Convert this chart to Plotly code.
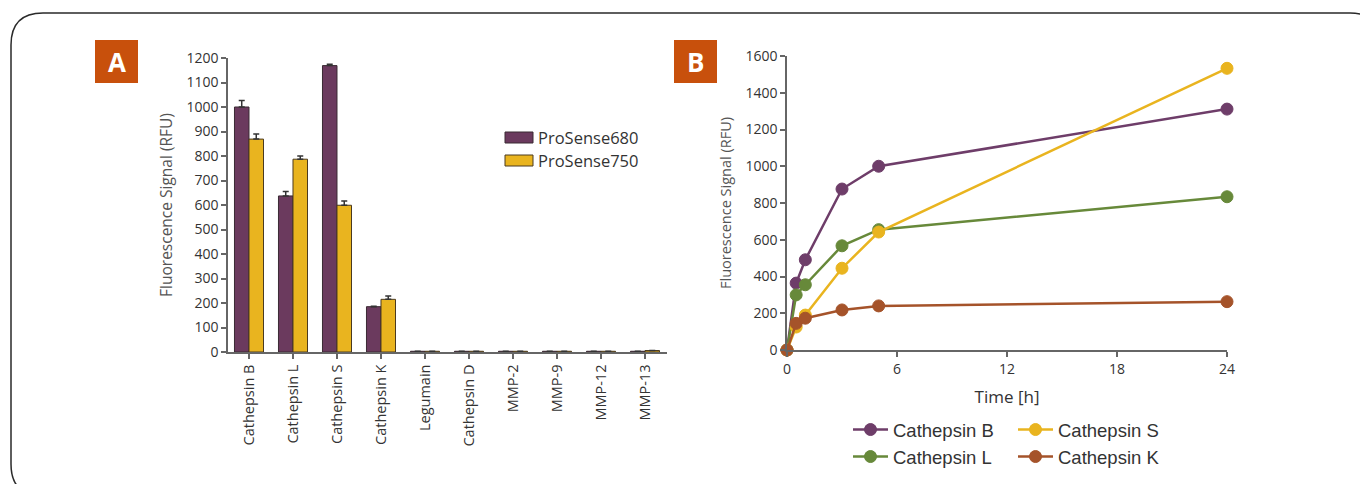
import plotly.graph_objects as go

# ---------------- data ----------------
categories = ["Cathepsin B", "Cathepsin L", "Cathepsin S", "Cathepsin K", "Legumain",
              "Cathepsin D", "MMP-2", "MMP-9", "MMP-12", "MMP-13"]
prosense680 = [1000, 637, 1169, 185, 3, 3, 3, 3, 3, 3]
prosense680_err = [27, 18, 5, 2, 0, 0, 0, 0, 0, 0]
prosense750 = [869, 787, 599, 215, 3, 3, 3, 3, 3, 6]
prosense750_err = [21, 13, 17, 14, 0, 0, 0, 0, 0, 0]

time_h = [0, 0.5, 1, 3, 5, 24]
cathepsin_B = [0, 364, 491, 876, 1000, 1311]
cathepsin_L = [0, 300, 355, 567, 655, 834]
cathepsin_S = [0, 125, 190, 445, 642, 1533]
cathepsin_K = [0, 145, 173, 218, 240, 263]

W, H = 1368, 484
OFF = 8  # page body margin offset
def px(x):
    return (x - OFF) / W
def py(y):
    return 1 - (y - OFF) / H

PURPLE = "#6B3A5E"
YELLOW = "#E9B41F"
GREEN = "#67893A"
BROWN = "#A5532A"
LPURPLE = "#6E3D69"
AXIS = "#666666"
TXT = "#333333"
FONT = "Open Sans"

fig = go.Figure()

# Panel A bars
fig.add_trace(go.Bar(
    x=categories, y=prosense680, name="ProSense680",
    marker=dict(color=PURPLE, line=dict(color="#3a2a33", width=1)),
    error_y=dict(type="data", symmetric=False, array=prosense680_err,
                 arrayminus=[0] * len(prosense680_err), color="#333", thickness=1.5, width=3),
    xaxis="x", yaxis="y", showlegend=False))
fig.add_trace(go.Bar(
    x=categories, y=prosense750, name="ProSense750",
    marker=dict(color=YELLOW, line=dict(color="#4a3a20", width=1)),
    error_y=dict(type="data", symmetric=False, array=prosense750_err,
                 arrayminus=[0] * len(prosense750_err), color="#333", thickness=1.5, width=3),
    xaxis="x", yaxis="y", showlegend=False))

# Panel B lines
series = [("Cathepsin B", cathepsin_B, LPURPLE, "legend2"),
          ("Cathepsin L", cathepsin_L, GREEN, "legend3"),
          ("Cathepsin S", cathepsin_S, YELLOW, "legend2"),
          ("Cathepsin K", cathepsin_K, BROWN, "legend3")]
for name, vals, col, leg in series:
    fig.add_trace(go.Scatter(
        x=time_h, y=vals, name=name, mode="lines+markers",
        line=dict(color=col, width=2.5),
        marker=dict(color=col, size=12, line=dict(color=col, width=1)),
        cliponaxis=False, xaxis="x2", yaxis="y2", legend=leg))

axis_common = dict(showline=True, linecolor=AXIS, linewidth=1.5, ticks="outside",
                   ticklen=5, tickwidth=1.5, tickcolor=AXIS, showgrid=False,
                   zeroline=False, automargin=False,
                   tickfont=dict(family=FONT, size=14, color=TXT))

shapes = []
annotations = []

# outer rounded frame
r = 32
x0, y0, x1, y1 = 11, 13, 1382, 496
path = (f"M {px(x0)},{py(y0 + r)} Q {px(x0)},{py(y0)} {px(x0 + r)},{py(y0)} "
        f"L {px(x1 - r)},{py(y0)} Q {px(x1)},{py(y0)} {px(x1)},{py(y0 + r)} "
        f"L {px(x1)},{py(y1 - r)} Q {px(x1)},{py(y1)} {px(x1 - r)},{py(y1)} "
        f"L {px(x0 + r)},{py(y1)} Q {px(x0)},{py(y1)} {px(x0)},{py(y1 - r)} Z")
shapes.append(dict(type="path", xref="paper", yref="paper", path=path,
                   line=dict(color="#2a2a2a", width=1.5), fillcolor="rgba(0,0,0,0)"))

# panel labels
for letter, lx in [("A", 95), ("B", 674)]:
    shapes.append(dict(type="rect", xref="paper", yref="paper",
                       x0=px(lx), x1=px(lx + 43), y0=py(83), y1=py(40),
                       fillcolor="#C8500C", line=dict(width=0)))
    annotations.append(dict(text=f"<b>{letter}</b>", xref="paper", yref="paper",
                            x=px(lx + 21.5), y=py(61.5), showarrow=False,
                            xanchor="center", yanchor="middle",
                            font=dict(family=FONT, size=26, color="white")))

# legend for panel A
for i, (lab, col, lc) in enumerate([("ProSense680", PURPLE, "#3a2a33"),
                                    ("ProSense750", YELLOW, "#4a3a20")]):
    ytop = 132 + i * 23
    shapes.append(dict(type="rect", xref="paper", yref="paper",
                       x0=px(505), x1=px(533), y0=py(ytop + 11), y1=py(ytop),
                       fillcolor=col, line=dict(color=lc, width=1)))
    annotations.append(dict(text=lab, xref="paper", yref="paper", x=px(536),
                            y=py(ytop + 5.5), showarrow=False, xanchor="left",
                            yanchor="middle", font=dict(family=FONT, size=16.5, color=TXT)))

legend_common = dict(orientation="h", xanchor="left", yanchor="middle",
                     font=dict(family="Liberation Sans", size=18.5, color=TXT),
                     entrywidth=115, itemwidth=35, bgcolor="rgba(0,0,0,0)",
                     traceorder="normal")

fig.update_layout(
    width=W, height=H, margin=dict(l=0, r=0, t=0, b=0),
    paper_bgcolor="white", plot_bgcolor="white",
    barmode="group", bargap=0.34, bargroupgap=0,
    xaxis=dict(axis_common, domain=[px(228), px(667)], range=[-0.477, 9.5],
               anchor="y", tickangle=-90,
               tickfont=dict(family=FONT, size=14.5, color=TXT)),
    yaxis=dict(axis_common, domain=[py(352), py(58)], range=[0, 1200], dtick=100,
               anchor="x",
               title=dict(text="Fluorescence Signal (RFU)", standoff=10,
                          font=dict(family=FONT, size=15.5, color="#555"))),
    xaxis2=dict(axis_common, domain=[px(787), px(1227)], range=[0, 24],
                tickvals=[0, 6, 12, 18, 24], anchor="y2",
                title=dict(text="Time [h]", standoff=15,
                           font=dict(family=FONT, size=17, color=TXT))),
    yaxis2=dict(axis_common, domain=[py(350), py(56)], range=[0, 1600], dtick=200,
                anchor="x2",
                title=dict(text="Fluorescence Signal (RFU)", standoff=10,
                           font=dict(family=FONT, size=14.5, color="#555"))),
    legend2=dict(legend_common, x=px(848), y=py(430)),
    legend3=dict(legend_common, x=px(848), y=py(457)),
    shapes=shapes, annotations=annotations,
)

fig.write_html("out.html")
